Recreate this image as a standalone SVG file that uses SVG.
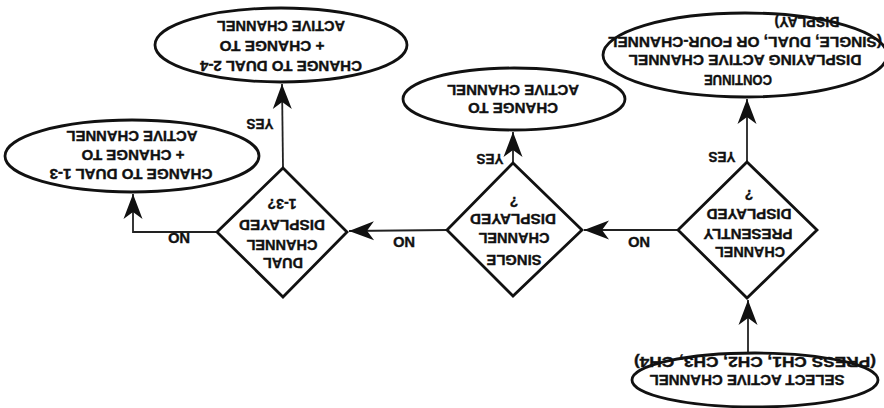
<svg xmlns="http://www.w3.org/2000/svg" width="884" height="408" viewBox="0 0 884 408">
  <style>
    .shape { fill: #ffffff; stroke: #111111; stroke-width: 2.8; }
    .link { fill: none; stroke: #222222; stroke-width: 1.8; }
    .lbl { font-family: "Liberation Sans", Arial, sans-serif; font-weight: bold; font-size: 14px; fill: #111111; stroke: #111111; stroke-width: 0.35; text-anchor: middle; }
  </style>
  <defs>
    <marker id="arrow" markerUnits="userSpaceOnUse" viewBox="-26 -11 28 22" refX="0" refY="0" markerWidth="28" markerHeight="22" orient="auto">
      <path d="M0,0 L-25,-9.5 L-18,0 L-25,9.5 Z" fill="#111111"/>
    </marker>
  </defs>
  <rect width="884" height="408" fill="#ffffff"/>

  <!-- Connectors -->
  <g id="connectors">
    <path class="link" d="M748,352 L748,300" marker-end="url(#arrow)"/>
    <path class="link" d="M747,162 L747,99" marker-end="url(#arrow)"/>
    <path class="link" d="M678,230 L584,230" marker-end="url(#arrow)"/>
    <path class="link" d="M513,163 L513,132" marker-end="url(#arrow)"/>
    <path class="link" d="M447,230 L349,231" marker-end="url(#arrow)"/>
    <path class="link" d="M283,168 L282,84" marker-end="url(#arrow)"/>
    <path class="link" d="M217,232 L133,232 L133,194" marker-end="url(#arrow)"/>
    <text class="lbl" x="722" y="162" transform="rotate(180 722 157)" textLength="27" lengthAdjust="spacingAndGlyphs">YES</text>
    <text class="lbl" x="639" y="247" transform="rotate(180 639 242)" textLength="22" lengthAdjust="spacingAndGlyphs">NO</text>
    <text class="lbl" x="490" y="164" transform="rotate(180 490 159)" textLength="27" lengthAdjust="spacingAndGlyphs">YES</text>
    <text class="lbl" x="404" y="247" transform="rotate(180 404 242)" textLength="22" lengthAdjust="spacingAndGlyphs">NO</text>
    <text class="lbl" x="260" y="129" transform="rotate(180 260 124)" textLength="27" lengthAdjust="spacingAndGlyphs">YES</text>
    <text class="lbl" x="179" y="243" transform="rotate(180 179 238)" textLength="22" lengthAdjust="spacingAndGlyphs">NO</text>
  </g>

  <!-- Start: select channel -->
  <g id="select-channel">
    <ellipse class="shape" cx="755" cy="380" rx="123" ry="27"/>
    <text class="lbl" x="747" y="385" transform="rotate(180 747 380)" textLength="195" lengthAdjust="spacingAndGlyphs">SELECT ACTIVE CHANNEL</text>
    <text class="lbl" x="755" y="367" transform="rotate(180 755 362)" textLength="242" lengthAdjust="spacingAndGlyphs">(PRESS CH1, CH2, CH3, CH4)</text>
  </g>

  <!-- Decision: channel already shown -->
  <g id="channel-displayed">
    <polygon class="shape" points="747,162 817,230 747,298 678,230"/>
    <text class="lbl" x="750" y="257" transform="rotate(180 750 252)" textLength="70" lengthAdjust="spacingAndGlyphs">CHANNEL</text>
    <text class="lbl" x="748" y="239" transform="rotate(180 748 234)" textLength="89" lengthAdjust="spacingAndGlyphs">PRESENTLY</text>
    <text class="lbl" x="749" y="219" transform="rotate(180 749 214)" textLength="85" lengthAdjust="spacingAndGlyphs">DISPLAYED</text>
    <text class="lbl" x="749" y="200" transform="rotate(180 749 195)">?</text>
  </g>

  <!-- Result: keep current display -->
  <g id="continue">
    <ellipse class="shape" cx="745" cy="55" rx="142" ry="42"/>
    <text class="lbl" x="807" y="27" transform="rotate(180 807 22)" textLength="65" lengthAdjust="spacingAndGlyphs">DISPLAY)</text>
    <text class="lbl" x="745" y="47" transform="rotate(180 745 42)" textLength="274" lengthAdjust="spacingAndGlyphs">(SINGLE, DUAL, OR FOUR-CHANNEL</text>
    <text class="lbl" x="745" y="65" transform="rotate(180 745 60)" textLength="233" lengthAdjust="spacingAndGlyphs">DISPLAYING ACTIVE CHANNEL</text>
    <text class="lbl" x="738" y="85" transform="rotate(180 738 80)" textLength="68" lengthAdjust="spacingAndGlyphs">CONTINUE</text>
  </g>

  <!-- Decision: single channel -->
  <g id="single-displayed">
    <polygon class="shape" points="513,163 582,230 513,296 447,230"/>
    <text class="lbl" x="514" y="265" transform="rotate(180 514 260)" textLength="55" lengthAdjust="spacingAndGlyphs">SINGLE</text>
    <text class="lbl" x="514" y="243" transform="rotate(180 514 238)" textLength="71" lengthAdjust="spacingAndGlyphs">CHANNEL</text>
    <text class="lbl" x="513" y="224" transform="rotate(180 513 219)" textLength="86" lengthAdjust="spacingAndGlyphs">DISPLAYED</text>
    <text class="lbl" x="514" y="207" transform="rotate(180 514 202)">?</text>
  </g>

  <!-- Result: change to channel -->
  <g id="change-active">
    <ellipse class="shape" cx="514" cy="99" rx="111" ry="31"/>
    <text class="lbl" x="513" y="95" transform="rotate(180 513 90)" textLength="132" lengthAdjust="spacingAndGlyphs">ACTIVE CHANNEL</text>
    <text class="lbl" x="513" y="113" transform="rotate(180 513 108)" textLength="90" lengthAdjust="spacingAndGlyphs">CHANGE TO</text>
  </g>

  <!-- Decision: dual 1-3 -->
  <g id="dual-displayed">
    <polygon class="shape" points="283,168 347,232 283,297 217,232"/>
    <text class="lbl" x="283" y="268" transform="rotate(180 283 263)" textLength="40" lengthAdjust="spacingAndGlyphs">DUAL</text>
    <text class="lbl" x="282" y="250" transform="rotate(180 282 245)" textLength="71" lengthAdjust="spacingAndGlyphs">CHANNEL</text>
    <text class="lbl" x="282" y="230" transform="rotate(180 282 225)" textLength="86" lengthAdjust="spacingAndGlyphs">DISPLAYED</text>
    <text class="lbl" x="282" y="209" transform="rotate(180 282 204)" textLength="29" lengthAdjust="spacingAndGlyphs">1-3?</text>
  </g>

  <!-- Result: dual 2-4 -->
  <g id="dual-2-4">
    <ellipse class="shape" cx="281" cy="45" rx="126" ry="37"/>
    <text class="lbl" x="281" y="31" transform="rotate(180 281 26)" textLength="128" lengthAdjust="spacingAndGlyphs">ACTIVE CHANNEL</text>
    <text class="lbl" x="272" y="51" transform="rotate(180 272 46)" textLength="105" lengthAdjust="spacingAndGlyphs">+ CHANGE TO</text>
    <text class="lbl" x="281" y="71" transform="rotate(180 281 66)" textLength="162" lengthAdjust="spacingAndGlyphs">CHANGE TO DUAL 2-4</text>
  </g>

  <!-- Result: dual 1-3 -->
  <g id="dual-1-3">
    <ellipse class="shape" cx="132" cy="156" rx="127" ry="36"/>
    <text class="lbl" x="132" y="141" transform="rotate(180 132 136)" textLength="131" lengthAdjust="spacingAndGlyphs">ACTIVE CHANNEL</text>
    <text class="lbl" x="133" y="160" transform="rotate(180 133 155)" textLength="103" lengthAdjust="spacingAndGlyphs">+ CHANGE TO</text>
    <text class="lbl" x="131" y="179" transform="rotate(180 131 174)" textLength="163" lengthAdjust="spacingAndGlyphs">CHANGE TO DUAL 1-3</text>
  </g>
</svg>
